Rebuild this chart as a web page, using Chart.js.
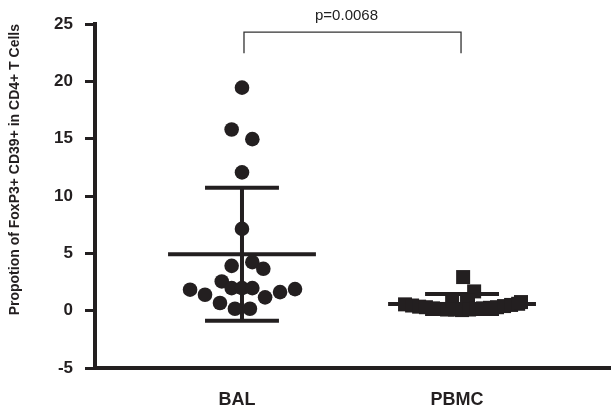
<!DOCTYPE html>
<html>
<head>
<meta charset="utf-8">
<script src="https://cdn.jsdelivr.net/npm/chart.js@4.4.1/dist/chart.umd.min.js"></script>
<style>
  html, body { margin: 0; padding: 0; background: #ffffff; }
  #wrap { width: 611px; height: 408px; position: relative; }
</style>
</head>
<body>
<div id="wrap"><canvas id="c" width="611" height="408"></canvas></div>
<script>
// ---- data ----
const categories = ['BAL', 'PBMC'];
const yTicks = [-5, 0, 5, 10, 15, 20, 25];
const yTitle = 'Propotion of FoxP3+ CD39+ in CD4+ T Cells';

const balValues = [19.45, 15.8, 14.96, 12.06, 7.13, 3.91, 4.23, 3.65, 2.55, 1.83, 1.39, 1.97, 1.97, 1.97, 1.62, 1.88, 1.16, 0.67, 0.17, 0.17];
const balJitter = [0, -0.047, 0.047, 0, 0, -0.047, 0.047, 0.097, -0.092, -0.236, -0.168, -0.047, 0, 0.047, 0.173, 0.241, 0.105, -0.1, -0.032, 0.036];

const pbmcValues = [2.93, 1.68, 0.55, 0.45, 0.35, 0.3, 0.2, 0.15, 0.1, 0.85, 0.1, 0.05, 0.85, 0.1, 0.15, 0.2, 0.25, 0.3, 0.4, 0.5, 0.6, 0.75];
const pbmcJitter = [0.005, 0.055, -0.259, -0.227, -0.195, -0.164, -0.132, -0.1, -0.068, -0.045, -0.032, 0, 0.027, 0.032, 0.064, 0.095, 0.127, 0.159, 0.191, 0.223, 0.255, 0.268];

const groupMeans = [4.93, 0.58];
const groupSDs = [5.8, 0.87];

const pValueLabel = 'p=0.0068';
const bracketTop = 24.3;
const bracketBottom = 22.45;
const pLabelY = 25.75;

// ---- styling constants ----
const INK = '#231f20';
const MEAN_HALF = 0.336;
const CAP_HALF = 0.168;
const P_TEXT_SHIFT = -6;

function pts(values, jitter, pos) {
  return values.map((v, i) => ({ x: pos + jitter[i], y: v }));
}

const errorSets = [];
groupMeans.forEach((m, i) => {
  const pos = i + 1;
  const hi = m + groupSDs[i], lo = m - groupSDs[i];
  const segs = [
    [{ x: pos - MEAN_HALF, y: m }, { x: pos + MEAN_HALF, y: m }],
    [{ x: pos - CAP_HALF, y: hi }, { x: pos + CAP_HALF, y: hi }],
    [{ x: pos - CAP_HALF, y: lo }, { x: pos + CAP_HALF, y: lo }],
    [{ x: pos, y: lo }, { x: pos, y: hi }]
  ];
  segs.forEach(s => errorSets.push({
    type: 'scatter', data: s, showLine: true, borderColor: INK, borderWidth: 4,
    pointRadius: 0, order: 2, borderCapStyle: 'butt', clip: false
  }));
});

const bracketPlugin = {
  id: 'pbracket',
  afterDraw(chart) {
    const { ctx, scales } = chart;
    const x1 = scales.x.getPixelForValue(1) + 2;
    const x2 = scales.x.getPixelForValue(2) - 1;
    const yt = scales.y.getPixelForValue(bracketTop);
    const yb = scales.y.getPixelForValue(bracketBottom);
    ctx.save();
    ctx.strokeStyle = '#333333';
    ctx.lineWidth = 1.3;
    ctx.beginPath();
    ctx.moveTo(x1, yb); ctx.lineTo(x1, yt); ctx.lineTo(x2, yt); ctx.lineTo(x2, yb);
    ctx.stroke();
    ctx.fillStyle = '#222222';
    ctx.font = '15px "Liberation Sans", Arial, sans-serif';
    ctx.textAlign = 'center';
    ctx.textBaseline = 'middle';
    ctx.fillText(pValueLabel, (x1 + x2) / 2 + P_TEXT_SHIFT, scales.y.getPixelForValue(pLabelY));
    ctx.restore();
  }
};

new Chart(document.getElementById('c'), {
  type: 'scatter',
  data: {
    datasets: [
      ...errorSets,
      { label: categories[0], data: pts(balValues, balJitter, 1), pointStyle: 'circle', pointRadius: 7.3,
        pointBackgroundColor: INK, pointBorderColor: INK, pointBorderWidth: 0, order: 1 },
      { label: categories[1], data: pts(pbmcValues, pbmcJitter, 2), pointStyle: 'rect', pointRadius: 9.9,
        pointBackgroundColor: INK, pointBorderColor: INK, pointBorderWidth: 0, order: 1 }
    ]
  },
  options: {
    responsive: false,
    animation: false,
    events: [],
    layout: { autoPadding: false, padding: { top: 24, right: 0, bottom: 2, left: 3 } },
    plugins: { legend: { display: false }, tooltip: { enabled: false } },
    scales: {
      x: {
        type: 'linear', min: 0.332, max: 2.677,
        afterBuildTicks: s => { s.ticks = categories.map((c, i) => ({ value: i + 1 })); },
        afterFit: s => { s.height = 38; s.paddingLeft = 0; s.paddingRight = 0; },
        ticks: {
          callback: v => categories[Math.round(v) - 1] || '',
          color: INK, padding: 21, labelOffset: -5,
          font: { family: '"Liberation Sans", Arial, sans-serif', size: 18, weight: 'bold' }
        },
        grid: { display: true, drawOnChartArea: false, drawTicks: false },
        border: { display: true, color: INK, width: 4 }
      },
      y: {
        min: -5, max: 25,
        afterBuildTicks: s => { s.ticks = yTicks.map(v => ({ value: v })); },
        afterFit: s => { s.width = 92; s.paddingTop = 0; s.paddingBottom = 0; },
        ticks: {
          color: INK, padding: 12,
          font: { family: '"Liberation Sans", Arial, sans-serif', size: 17, weight: 'bold' }
        },
        grid: { drawOnChartArea: false, drawTicks: true, tickLength: 10, tickWidth: 3, tickColor: INK },
        border: { display: true, color: INK, width: 4 },
        title: {
          display: true, text: yTitle, align: 'end', color: INK,
          padding: { top: 4, bottom: 18 },
          font: { family: '"Liberation Sans", Arial, sans-serif', size: 14, weight: 'bold' }
        }
      }
    }
  },
  plugins: [bracketPlugin]
});
</script>
</body>
</html>
